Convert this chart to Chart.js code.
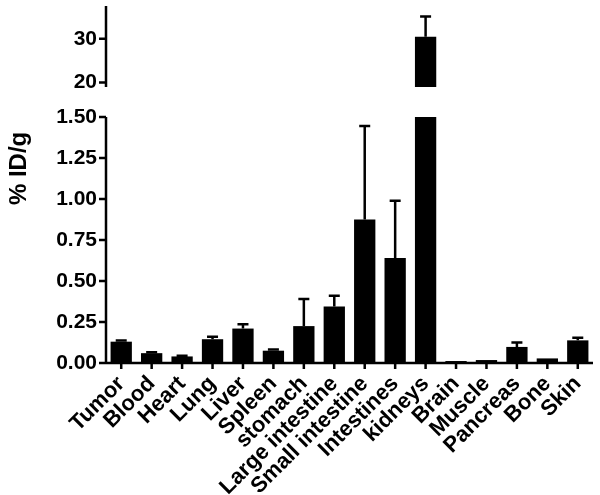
<!DOCTYPE html>
<html>
<head>
<meta charset="utf-8">
<style>
  html, body { margin: 0; padding: 0; background: #fff; }
  #wrap { width: 600px; height: 495px; }
</style>
<script src="https://cdn.jsdelivr.net/npm/chart.js@4.4.1/dist/chart.umd.min.js"></script>
</head>
<body>
<div id="wrap"><canvas id="bio"></canvas></div>
<script>
// organ biodistribution, %ID/g (mean + SD)
const categories = ['Tumor', 'Blood', 'Heart', 'Lung', 'Liver', 'Spleen', 'stomach', 'Large intestine',
  'Small intestine', 'Intestines', 'kidneys', 'Brain', 'Muscle', 'Pancreas', 'Bone', 'Skin'];
const means = [0.13, 0.06, 0.04, 0.145, 0.21, 0.075, 0.225, 0.345, 0.875, 0.64, 30.5, 0.012, 0.018, 0.098, 0.028, 0.138];
const errors = [0.007, 0.006, 0.004, 0.015, 0.027, 0.007, 0.165, 0.065, 0.57, 0.35, 4.6, 0, 0, 0.027, 0, 0.016];

// broken axis: lower and upper segments
const lowerRange = [0, 1.5];
const upperRange = [19, 37.5];
const upperTicks = [20, 30];

const FONT = 'Liberation Sans, Arial, sans-serif';
const AXIS_W = 2.5;

// bars are clipped to the lower segment, the rest goes in the upper one
const lowerData = means.map(v => Math.min(v, lowerRange[1]));
const upperData = means.map(v => v > lowerRange[1] ? v : null);

const errorBars = {
  id: 'errorBars',
  afterDatasetsDraw(chart) {
    const { ctx, scales } = chart;
    ctx.save();
    ctx.strokeStyle = '#000';
    ctx.lineWidth = 2.5;
    means.forEach((v, i) => {
      if (!errors[i]) return;
      const ys = v > lowerRange[1] ? scales.yUpper : scales.yLower;
      const x = scales.x.getPixelForValue(i);
      const y0 = ys.getPixelForValue(v);
      const y1 = ys.getPixelForValue(v + errors[i]);
      ctx.beginPath();
      ctx.moveTo(x, y0);
      ctx.lineTo(x, y1);
      ctx.moveTo(x - 5.5, y1);
      ctx.lineTo(x + 5.5, y1);
      ctx.stroke();
    });
    ctx.restore();
  }
};

// axis lines and tick marks, drawn from the scales
const axisLines = {
  id: 'axisLines',
  afterDraw(chart) {
    const { ctx, scales } = chart;
    ctx.save();
    ctx.strokeStyle = '#000';
    ctx.lineWidth = AXIS_W;
    ctx.beginPath();
    ['yUpper', 'yLower'].forEach(id => {
      const s = scales[id];
      const x = s.right;
      ctx.moveTo(x, s.top);
      ctx.lineTo(x, s.bottom + (id === 'yLower' ? AXIS_W / 2 : 0));
      s.ticks.forEach(t => {
        const y = s.getPixelForValue(t.value);
        ctx.moveTo(x - 7, y);
        ctx.lineTo(x, y);
      });
    });
    const xs = scales.x;
    ctx.moveTo(xs.left - AXIS_W / 2, xs.top);
    ctx.lineTo(xs.right, xs.top);
    categories.forEach((c, i) => {
      const x = xs.getPixelForValue(i);
      ctx.moveTo(x, xs.top);
      ctx.lineTo(x, xs.top + 6);
    });
    ctx.stroke();
    ctx.restore();
  }
};

// y title spans both segments, drawn by hand
const yTitle = {
  id: 'yTitle',
  afterDraw(chart) {
    const { ctx, chartArea } = chart;
    ctx.save();
    ctx.translate(19, chartArea.top + chartArea.height * 0.455);
    ctx.rotate(-Math.PI / 2);
    ctx.font = 'bold 24px ' + FONT;
    ctx.fillStyle = '#000';
    ctx.textAlign = 'center';
    ctx.textBaseline = 'middle';
    ctx.fillText('% ID/g', 0, 0);
    ctx.restore();
  }
};

const fitY = scale => {
  scale.width = 106;
  scale.paddingTop = 0;
  scale.paddingBottom = 0;
};

const hiddenGrid = { drawOnChartArea: false, color: 'rgba(0,0,0,0)', tickLength: 7 };

const yCommon = {
  position: 'left',
  stack: 'broken',
  border: { display: false },
  grid: hiddenGrid,
  ticks: { color: '#000', font: { family: FONT, size: 21, weight: 'bold' }, padding: 2, autoSkip: false },
  afterFit: fitY
};

new Chart(document.getElementById('bio'), {
  type: 'bar',
  data: {
    labels: categories,
    datasets: [
      { data: lowerData, yAxisID: 'yLower', backgroundColor: '#000', barPercentage: 0.7, categoryPercentage: 1 },
      { data: upperData, yAxisID: 'yUpper', backgroundColor: '#000', barPercentage: 0.7, categoryPercentage: 1 }
    ]
  },
  options: {
    responsive: true,
    maintainAspectRatio: false,
    animation: false,
    grouped: false,
    layout: { padding: { top: 6, right: 7, left: 0, bottom: 0 } },
    plugins: { legend: { display: false }, tooltip: { enabled: false } },
    scales: {
      x: {
        border: { display: false },
        grid: { ...hiddenGrid, offset: false, tickLength: 6 },
        ticks: {
          color: '#000', font: { family: FONT, size: 22, weight: 'bold' },
          minRotation: 45, maxRotation: 45, autoSkip: false, padding: 2
        },
        afterFit: scale => {
          scale.height = 132;
          scale.paddingLeft = 0;
          scale.paddingRight = 0;
        }
      },
      yUpper: {
        ...yCommon,
        weight: 2,
        stackWeight: 81,
        min: upperRange[0],
        max: upperRange[1],
        afterBuildTicks: scale => { scale.ticks = upperTicks.map(v => ({ value: v })); }
      },
      yGap: {
        position: 'left',
        stack: 'broken',
        weight: 1,
        stackWeight: 30,
        border: { display: false },
        grid: { display: false },
        ticks: { display: false },
        afterFit: fitY
      },
      yLower: {
        ...yCommon,
        weight: 0,
        stackWeight: 246,
        min: lowerRange[0],
        max: lowerRange[1],
        ticks: { ...yCommon.ticks, stepSize: 0.25, callback: v => v.toFixed(2) }
      }
    }
  },
  plugins: [errorBars, axisLines, yTitle]
});
</script>
</body>
</html>
